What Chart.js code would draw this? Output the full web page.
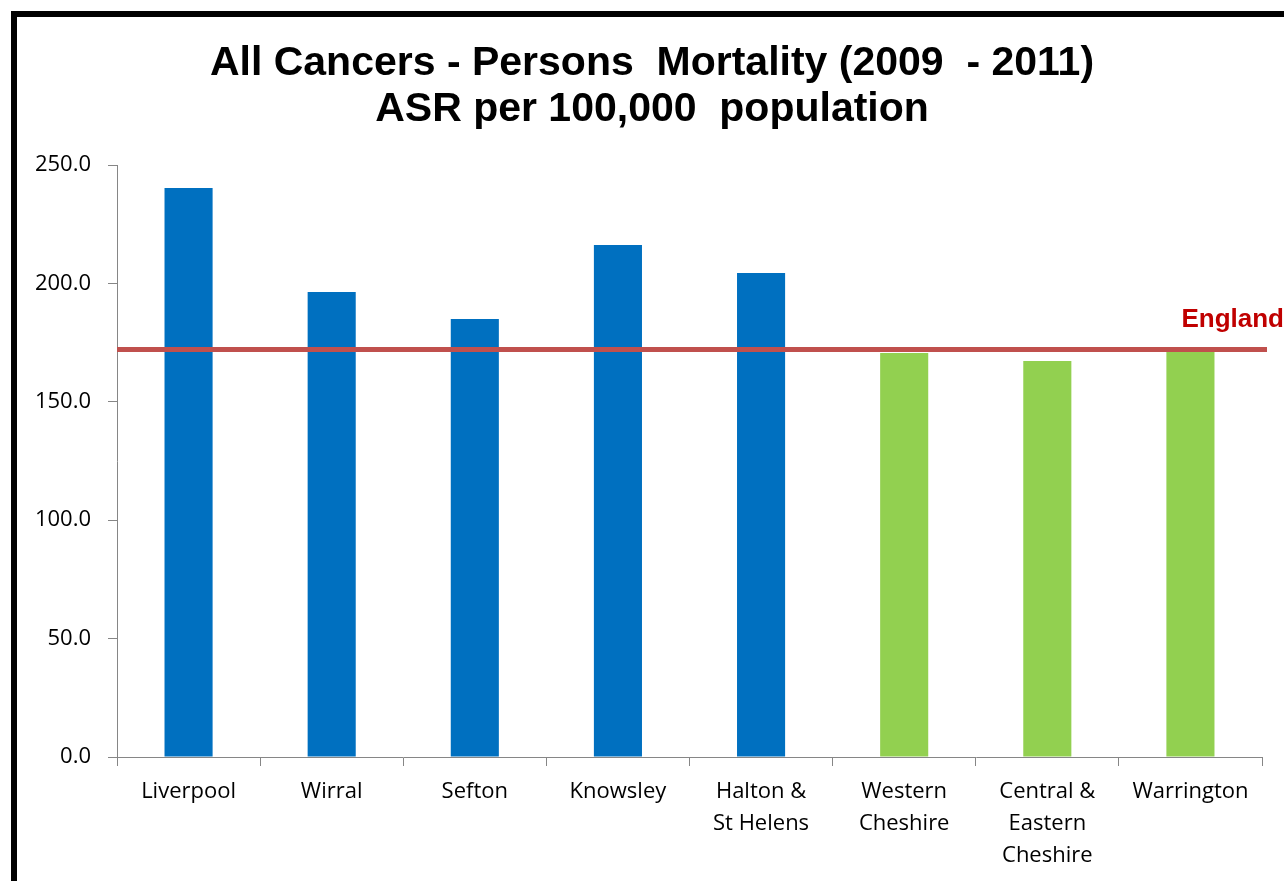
<!DOCTYPE html>
<html>
<head>
<meta charset="utf-8">
<script src="https://cdn.jsdelivr.net/npm/chart.js@4.4.0/dist/chart.umd.min.js"></script>
<style>
  body { margin: 0; background: #fff; }
  #wrap { position: relative; width: 1284px; height: 881px; overflow: hidden; }
  #frame { position: absolute; left: 11px; top: 11px; width: 1400px; height: 1000px;
           border-left: 6px solid #000; border-top: 6px solid #000; pointer-events: none; }
</style>
</head>
<body>
<div id="wrap">
  <canvas id="myChart" width="1284" height="881"></canvas>
  <div id="frame"></div>
</div>
<script>
// Chart data
const areas = [
  'Liverpool', 'Wirral', 'Sefton', 'Knowsley', ['Halton &', 'St Helens'],
  ['Western', 'Cheshire'], ['Central &', 'Eastern', 'Cheshire'], 'Warrington'
];
const asrValues = [240.3, 196.4, 185.0, 216.2, 204.4, 170.6, 167.2, 171.8];
const barColors = ['#0070C0', '#0070C0', '#0070C0', '#0070C0', '#0070C0', '#92D050', '#92D050', '#92D050'];
const englandValue = 172.1;
const englandLabel = 'England';
const titleLines = ['All Cancers - Persons  Mortality (2009  - 2011)', 'ASR per 100,000  population'];

// title (centred a bit right of the canvas middle, like the original slide)
const slideTitle = {
  id: 'slideTitle',
  afterDraw(chart) {
    const { ctx } = chart;
    ctx.save();
    ctx.fillStyle = '#000';
    ctx.font = 'bold 41px "Liberation Sans", Arial, sans-serif';
    ctx.textAlign = 'center';
    ctx.textBaseline = 'alphabetic';
    titleLines.forEach((line, i) => ctx.fillText(line, 652, 75 + i * 46));
    ctx.restore();
  }
};

// England reference line, drawn across the plot and labelled at the right
const englandLine = {
  id: 'englandLine',
  afterDatasetsDraw(chart) {
    const { ctx, chartArea, scales } = chart;
    const y = scales.y.getPixelForValue(englandValue);
    ctx.save();
    ctx.strokeStyle = '#C0504D';
    ctx.lineWidth = 5;
    ctx.beginPath();
    ctx.moveTo(chartArea.left, y);
    ctx.lineTo(chartArea.right + 5, y);
    ctx.stroke();
    ctx.fillStyle = '#C00000';
    ctx.font = 'bold 26px "Liberation Sans", Arial, sans-serif';
    ctx.textAlign = 'right';
    ctx.textBaseline = 'alphabetic';
    ctx.fillText(englandLabel, chart.width, y - 22);
    ctx.restore();
  }
};

const tickFont = { family: '"Open Sans", sans-serif', size: 22 };

new Chart(document.getElementById('myChart').getContext('2d'), {
  type: 'bar',
  data: {
    labels: areas,
    datasets: [{
      label: 'ASR per 100,000',
      data: asrValues,
      backgroundColor: barColors,
      categoryPercentage: 1,
      barPercentage: 0.336
    }]
  },
  options: {
    responsive: false,
    animation: false,
    layout: { padding: { left: 0, right: 22, top: 165, bottom: 0 } },
    plugins: {
      legend: { display: false },
      tooltip: { enabled: false },
      title: { display: false }
    },
    scales: {
      x: {
        grid: { display: true, drawOnChartArea: false, tickLength: 9, color: '#868686', offset: true },
        border: { display: true, color: '#868686', width: 1 },
        ticks: { color: '#000', font: { ...tickFont, lineHeight: 1.45 }, padding: 10, maxRotation: 0, autoSkip: false },
        afterFit: s => { s.height = 124; }
      },
      y: {
        min: 0,
        max: 250,
        grid: { display: true, drawOnChartArea: false, tickLength: 9, color: '#868686' },
        border: { display: true, color: '#868686', width: 1 },
        ticks: { stepSize: 50, color: '#000', font: tickFont, padding: 17,
                 callback: v => v.toFixed(1) },
        afterFit: s => { s.width = 117; }
      }
    }
  },
  plugins: [englandLine, slideTitle]
});
</script>
</body>
</html>
